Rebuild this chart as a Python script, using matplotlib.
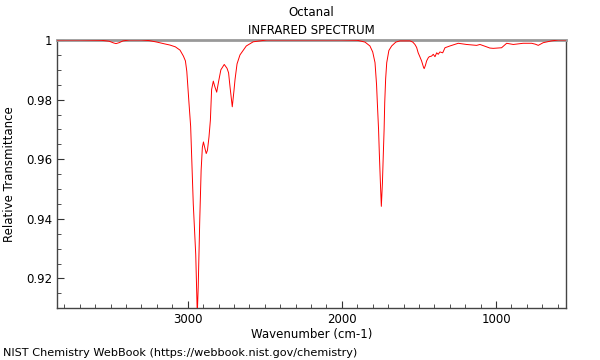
import matplotlib
matplotlib.use("Agg")
import matplotlib.pyplot as plt
from matplotlib.ticker import MultipleLocator, FixedLocator, FuncFormatter

wavenumber = [3848, 3700, 3560, 3510, 3480, 3465, 3445, 3420, 3380, 3300, 3250, 3200,
              3150, 3115, 3080, 3050, 3028, 3015, 3006, 2992, 2981, 2964,
              2948, 2938, 2932, 2922, 2913, 2905, 2898, 2890, 2880, 2872, 2862, 2853,
              2845, 2834, 2825, 2812, 2800, 2785, 2763, 2745, 2735, 2725, 2711, 2700,
              2693, 2680, 2661, 2620, 2575, 2488, 2000, 1900, 1850, 1818, 1800, 1785,
              1775, 1770, 1762, 1757, 1750, 1744, 1737, 1731, 1726, 1722, 1716, 1709,
              1695, 1677, 1650, 1623, 1558, 1540, 1526, 1515, 1505, 1495, 1483, 1470,
              1466, 1458, 1450, 1440, 1433, 1418, 1407, 1396, 1385, 1375, 1364, 1346,
              1331, 1299, 1245, 1191, 1126, 1104, 1061, 1040, 1018, 964, 931, 888,
              824, 769, 745, 726, 694, 640, 597, 548]
transmittance = [1.0000, 1.0000, 0.9999, 0.9996, 0.9990, 0.9988, 0.9991, 0.9997, 1.0000,
                 1.0000, 0.9998, 0.9993, 0.9987, 0.9983, 0.9977, 0.9966, 0.9946, 0.9930,
                 0.9895, 0.9790, 0.9710, 0.9450,
                 0.9280, 0.9080, 0.9170,
                 0.9395, 0.9563, 0.9640, 0.9658, 0.9640, 0.9619, 0.9630, 0.9675, 0.9731,
                 0.9834, 0.9862, 0.9845, 0.9825, 0.9860, 0.9900, 0.9918, 0.9905, 0.9890,
                 0.9840, 0.9776, 0.9830, 0.9868, 0.9920, 0.9950, 0.9980, 0.9994, 1.0000,
                 1.0000, 0.9999, 0.9993, 0.9980, 0.9960, 0.9924, 0.9850, 0.9790, 0.9700,
                 0.9620, 0.9520, 0.9442, 0.9520, 0.9620, 0.9700, 0.9790, 0.9870, 0.9924,
                 0.9965, 0.9980, 0.9993, 0.9997, 0.9997, 0.9993, 0.9985, 0.9975, 0.9957,
                 0.9945, 0.9930, 0.9908, 0.9904, 0.9915, 0.9930, 0.9940, 0.9944, 0.9946,
                 0.9952, 0.9944, 0.9957, 0.9952, 0.9960, 0.9957, 0.9974, 0.9980, 0.9989,
                 0.9985, 0.9982, 0.9985, 0.9977, 0.9973, 0.9972, 0.9974, 0.9989, 0.9985,
                 0.9989, 0.9989, 0.9986, 0.9982, 0.9991, 0.9997, 1.0000, 1.0000]

x_major = [3000, 2000, 1000]
y_major = [0.92, 0.94, 0.96, 0.98, 1.0]

fig = plt.figure(figsize=(6, 3.6), dpi=100)
ax = fig.add_axes([57/600, 1-307.7/360, (565.7-57)/600, (307.7-40)/360])
ax.plot(wavenumber, transmittance, color='red', lw=0.7, zorder=3)
ax.set_xlim(3848, 548)
ax.set_ylim(0.9102, 1.0)

ax.xaxis.set_major_locator(FixedLocator(x_major))
ax.xaxis.set_minor_locator(MultipleLocator(100))
ax.yaxis.set_major_locator(FixedLocator(y_major))
ax.yaxis.set_minor_locator(MultipleLocator(0.005))
ax.yaxis.set_major_formatter(FuncFormatter(lambda v, p: f"{v:g}"))
ax.tick_params(which='both', direction='in', top=False, right=False,
               labelsize=8.5, color='#333333')
ax.tick_params(which='major', length=5)
ax.tick_params(which='minor', length=3)

for s in ['left', 'right', 'bottom']:
    ax.spines[s].set_color('#444444')
    ax.spines[s].set_linewidth(1.0)
ax.spines['top'].set_color('#999999')
ax.spines['top'].set_linewidth(2.0)

ax.set_xlabel('Wavenumber (cm-1)', fontsize=8.5, labelpad=2)
ax.set_ylabel('Relative Transmittance', fontsize=8.5, labelpad=7)
fig.text(311.5/600, 1-12/360, 'Octanal', ha='center', va='center', fontsize=8.5)
fig.text(311.5/600, 1-30/360, 'INFRARED SPECTRUM', ha='center', va='center', fontsize=8.5)
fig.text(3/600, 1-353/360, 'NIST Chemistry WebBook (https://webbook.nist.gov/chemistry)',
         ha='left', va='center', fontsize=8.15)

fig.savefig('out.png', dpi=100)
